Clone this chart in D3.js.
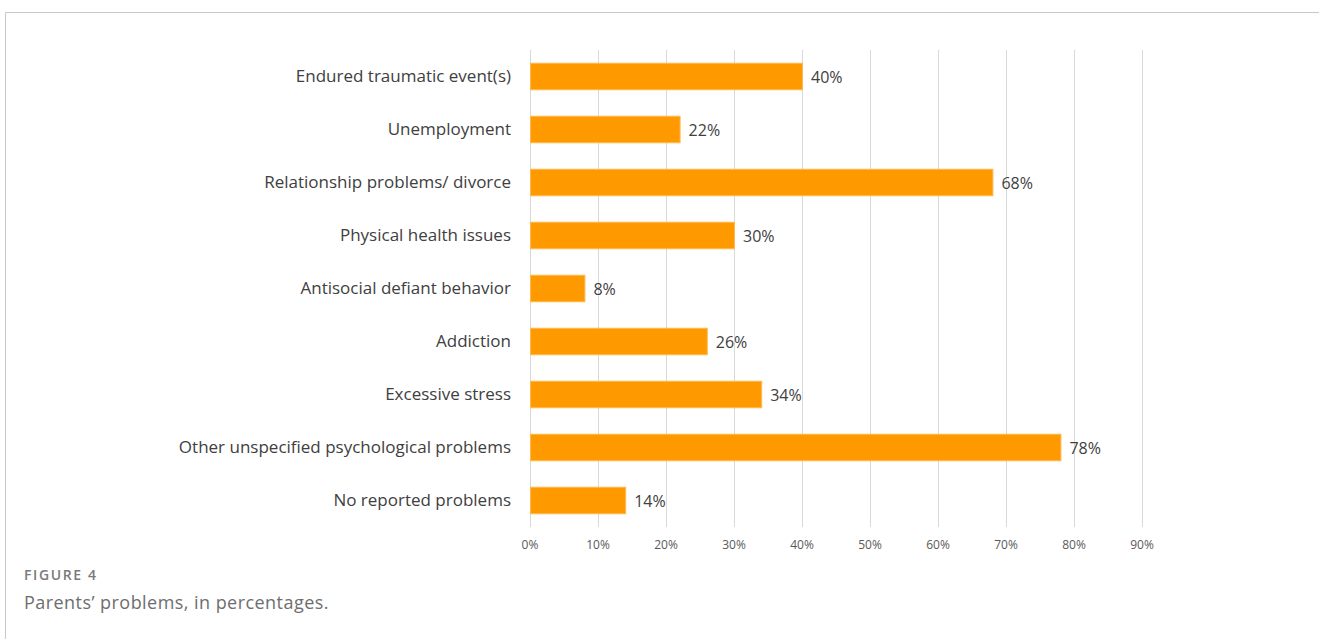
<!DOCTYPE html>
<html>
<head>
<meta charset="utf-8">
<script src="https://cdn.jsdelivr.net/npm/d3@7"></script>
<style>
  body { margin: 0; background: #fff; }
  svg { display: block; }
</style>
</head>
<body>
<div id="chart"></div>
<script>
const categories = [
  'Endured traumatic event(s)',
  'Unemployment',
  'Relationship problems/ divorce',
  'Physical health issues',
  'Antisocial defiant behavior',
  'Addiction',
  'Excessive stress',
  'Other unspecified psychological problems',
  'No reported problems'
];
const values = [40, 22, 68, 30, 8, 26, 34, 78, 14];
const tickValues = [0, 10, 20, 30, 40, 50, 60, 70, 80, 90];

const W = 1319, H = 639;
const margin = { top: 50, left: 530, plotW: 612, plotH: 477 };

const svg = d3.select('#chart').append('svg')
  .attr('width', W)
  .attr('height', H);

// frame lines
svg.append('line').attr('x1', 5.5).attr('x2', W).attr('y1', 12.5).attr('y2', 12.5)
  .attr('stroke', '#c8c8c8');
svg.append('line').attr('x1', 5.5).attr('x2', 5.5).attr('y1', 12.5).attr('y2', H)
  .attr('stroke', '#c8c8c8');

const x = d3.scaleLinear()
  .domain([0, 90])
  .range([margin.left, margin.left + margin.plotW]);

const y = d3.scaleBand()
  .domain(categories)
  .range([margin.top, margin.top + margin.plotH])
  .paddingInner(0.5)
  .paddingOuter(0.25);

// gridlines
svg.append('g')
  .selectAll('line')
  .data(tickValues)
  .enter().append('line')
  .attr('x1', (d) => Math.round(x(d)) + 0.5)
  .attr('x2', (d) => Math.round(x(d)) + 0.5)
  .attr('y1', margin.top)
  .attr('y2', margin.top + margin.plotH)
  .attr('stroke', '#d9d9d9');

// x axis labels
svg.append('g')
  .selectAll('text')
  .data(tickValues)
  .enter().append('text')
  .attr('x', (d) => x(d))
  .attr('y', 549)
  .attr('text-anchor', 'middle')
  .attr('font-family', "'Open Sans', sans-serif")
  .attr('font-size', 12)
  .attr('fill', '#595959')
  .text((d) => d + '%');

// bars
svg.append('g')
  .selectAll('rect')
  .data(values)
  .enter().append('rect')
  .attr('x', x(0) + 0.5)
  .attr('y', (d, i) => y(categories[i]))
  .attr('width', (d) => x(d) - x(0))
  .attr('height', y.bandwidth())
  .attr('fill', '#ff9900')
  .attr('stroke', '#ffb84d')
  .attr('stroke-width', 1);

// category labels
svg.append('g')
  .selectAll('text')
  .data(categories)
  .enter().append('text')
  .attr('x', 511)
  .attr('y', (d) => y(d) + y.bandwidth() / 2)
  .attr('dy', '0.35em')
  .attr('text-anchor', 'end')
  .attr('font-family', "'Open Sans', sans-serif")
  .attr('font-size', 17)
  .attr('fill', '#404040')
  .text((d) => d);

// value labels
svg.append('g')
  .selectAll('text')
  .data(values)
  .enter().append('text')
  .attr('x', (d) => x(d) + 9)
  .attr('y', (d, i) => y(categories[i]) + y.bandwidth() / 2)
  .attr('dy', '0.4em')
  .attr('font-family', "'Open Sans', sans-serif")
  .attr('font-size', 16)
  .attr('fill', '#404040')
  .text((d) => d + '%');

// caption
svg.append('text')
  .attr('x', 24).attr('y', 580)
  .attr('font-family', "'Open Sans', sans-serif")
  .attr('font-size', 14)
  .attr('font-weight', 600)
  .attr('letter-spacing', 1.6)
  .attr('fill', '#7a7a7a')
  .text('FIGURE 4');

svg.append('text')
  .attr('x', 24).attr('y', 609)
  .attr('font-family', "'Open Sans', sans-serif")
  .attr('font-size', 18)
  .attr('letter-spacing', 0.45)
  .attr('fill', '#6e6e6e')
  .text('Parents\u2019 problems, in percentages.');
</script>
</body>
</html>
